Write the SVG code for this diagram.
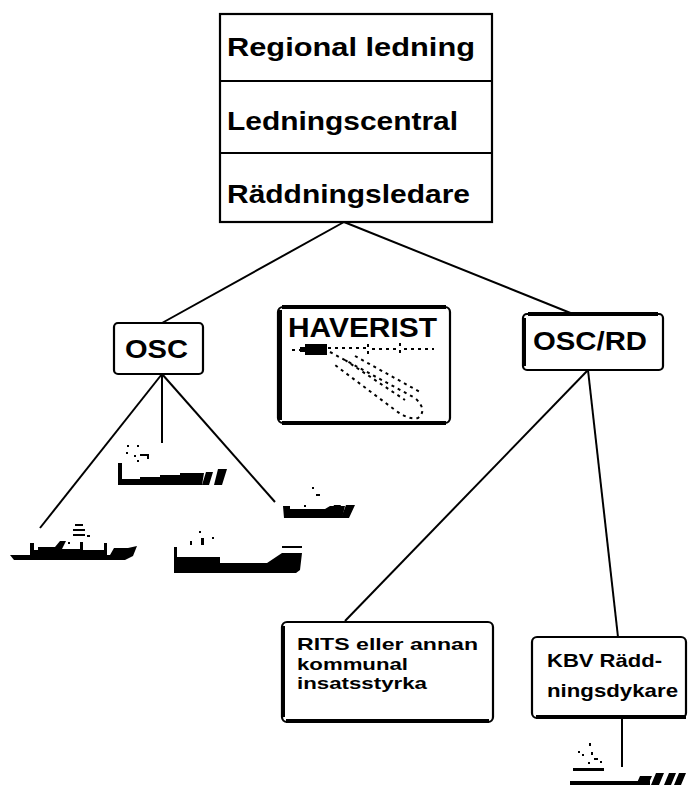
<svg xmlns="http://www.w3.org/2000/svg" width="689" height="789" viewBox="0 0 689 789">
  <style>
    .frame { fill: #fff; stroke: #000; stroke-width: 2.2; }
    .edge { fill: none; stroke: #000; stroke-width: 4; stroke-linecap: square; }
    .lbl { font-family: "Liberation Sans", Arial, sans-serif; font-weight: bold; fill: #000; }
    .conn line { stroke: #000; stroke-width: 2; }
    .hull { fill: #000; stroke: none; }
    .dash { fill: none; stroke: #000; stroke-width: 2; stroke-dasharray: 3 4; }
  </style>
  <rect width="689" height="789" fill="#fff"/>

  <!-- connectors -->
  <g id="connectors" class="conn">
    <line x1="344" y1="222" x2="162" y2="323"/>
    <line x1="344" y1="222" x2="573" y2="314"/>
    <line x1="162" y1="374" x2="40" y2="528"/>
    <line x1="162" y1="374" x2="162" y2="443"/>
    <line x1="162" y1="374" x2="275" y2="502"/>
    <line x1="588" y1="370" x2="345" y2="621"/>
    <line x1="588" y1="370" x2="618" y2="637"/>
    <line x1="622" y1="718" x2="622" y2="767"/>
  </g>

  <!-- command stack -->
  <g id="command">
    <rect class="frame" x="220" y="14" width="272" height="208" stroke-width="2.5"/>
    <line x1="220" y1="81" x2="492" y2="81" stroke="#000" stroke-width="2"/>
    <line x1="220" y1="153" x2="492" y2="153" stroke="#000" stroke-width="2"/>
    <text class="lbl" x="227" y="56" font-size="26" textLength="248" lengthAdjust="spacingAndGlyphs">Regional  ledning</text>
    <text class="lbl" x="227" y="130" font-size="26" textLength="231" lengthAdjust="spacingAndGlyphs">Ledningscentral</text>
    <text class="lbl" x="227" y="203" font-size="26" textLength="243" lengthAdjust="spacingAndGlyphs">Räddningsledare</text>
  </g>

  <!-- OSC -->
  <g id="osc">
    <rect class="frame" x="114" y="323" width="89" height="51" rx="4"/>
    <text class="lbl" x="125" y="358" font-size="26" textLength="63" lengthAdjust="spacingAndGlyphs">OSC</text>
  </g>

  <!-- HAVERIST -->
  <g id="haverist">
    <rect class="frame" x="278" y="307" width="172" height="116" rx="5"/>
    <line class="edge" x1="284" y1="307" x2="444" y2="307" stroke-width="3"/>
    <line class="edge" x1="280" y1="312" x2="280" y2="418" stroke-width="2.5"/>
    <line class="edge" x1="284" y1="423" x2="444" y2="423" stroke-width="2.5"/>
    <text class="lbl" x="288" y="337" font-size="27" textLength="149" lengthAdjust="spacingAndGlyphs">HAVERIST</text>
    <!-- aircraft wreck -->
    <rect class="hull" x="305" y="344" width="22" height="11"/>
    <rect class="hull" x="300" y="347" width="6" height="5"/>
    <path class="dash" d="M292,350 H300 M328,348 H368 M368,344 V354 M372,349 H400 M400,343 V356 M404,349 H434"/>
    <path class="dash" d="M330,352 L415,398 Q428,410 418,418 Q408,420 395,410 L335,365"/>
    <path class="dash" d="M345,360 L405,400 M355,356 L420,392"/>
  </g>

  <!-- OSC/RD -->
  <g id="osc-rd">
    <rect class="frame" x="523" y="314" width="140" height="56" rx="4"/>
    <line class="edge" x1="530" y1="314" x2="656" y2="314" stroke-width="3"/>
    <line class="edge" x1="524" y1="320" x2="524" y2="364" stroke-width="3"/>
    <text class="lbl" x="533" y="350" font-size="25" textLength="114" lengthAdjust="spacingAndGlyphs">OSC/RD</text>
  </g>

  <!-- RITS -->
  <g id="rits">
    <rect class="frame" x="282" y="622" width="211" height="100" rx="5"/>
    <line class="edge" x1="283" y1="628" x2="283" y2="715" stroke-width="3.5"/>
    <line class="edge" x1="288" y1="721" x2="487" y2="721" stroke-width="3"/>
    <text class="lbl" x="297" y="650" font-size="17" textLength="181" lengthAdjust="spacingAndGlyphs">RITS  eller annan</text>
    <text class="lbl" x="297" y="670" font-size="17" textLength="111" lengthAdjust="spacingAndGlyphs">kommunal</text>
    <text class="lbl" x="297" y="689" font-size="17" textLength="130" lengthAdjust="spacingAndGlyphs">insatsstyrka</text>
  </g>

  <!-- KBV -->
  <g id="kbv">
    <rect class="frame" x="532" y="637" width="154" height="81" rx="5"/>
    <line class="edge" x1="538" y1="717" x2="684" y2="717" stroke-width="3.5"/>
    <text class="lbl" x="547" y="667" font-size="19" textLength="115" lengthAdjust="spacingAndGlyphs">KBV Rädd-</text>
    <text class="lbl" x="547" y="697" font-size="19" textLength="131" lengthAdjust="spacingAndGlyphs">ningsdykare</text>
  </g>

  <!-- vessels -->
  <g id="vessel-a">
    <path class="hull" d="M118,463 H122 V479 H140 V477 H160 V475 H180 V473 H200 L204,473 L202,485 H118 Z"/>
    <path class="hull" d="M206,472 H213 L209,485 H202 Z M218,469 H227 L222,485 H214 Z"/>
    <g class="hull">
      <rect x="127" y="445" width="2" height="2"/><rect x="137" y="445" width="2" height="2"/>
      <rect x="126" y="452" width="2" height="2"/><rect x="134" y="455" width="2" height="2"/>
      <rect x="140" y="454" width="8" height="2"/><rect x="147" y="454" width="2" height="5"/>
      <rect x="137" y="460" width="2" height="2"/>
    </g>
  </g>

  <g id="vessel-b">
    <path class="hull" d="M10,555 H110 L114,548 H128 L137,546 L133,556 L125,560 H14 Z"/>
    <path class="hull" d="M30,543 H34 V550 H38 V547 H55 L60,541 H66 L62,549 H80 V542 H83 V550 H104 V543 H107 V555 H30 Z"/>
    <rect class="hull" x="75" y="524" width="8" height="2"/>
    <rect class="hull" x="73" y="529" width="12" height="2"/>
    <rect class="hull" x="73" y="534" width="12" height="2"/>
    <rect class="hull" x="87" y="535" width="3" height="2"/>
    <rect class="hull" x="68" y="542" width="2" height="2"/>
  </g>

  <g id="vessel-c">
    <path class="hull" d="M174,547 H177 V557 H220 V563 H267 L276,557 L282,553 H302 L300,570 L296,573 H174 Z"/>
    <rect class="hull" x="282" y="546" width="20" height="2"/>
    <rect class="hull" x="190" y="541" width="2" height="4"/>
    <rect class="hull" x="201" y="538" width="3" height="7"/>
    <rect class="hull" x="199" y="531" width="2" height="2"/>
    <rect class="hull" x="212" y="537" width="2" height="2"/>
  </g>

  <g id="vessel-d">
    <path class="hull" d="M283,506 H290 V509 H325 L330,506 H345 L342,518 H284 Z"/>
    <path class="hull" d="M334,505 H341 L335,518 H328 Z M346,505 H355 L349,518 H341 Z"/>
    <rect class="hull" x="312" y="487" width="2" height="2"/>
    <rect class="hull" x="316" y="494" width="4" height="2"/>
    <rect class="hull" x="304" y="505" width="2" height="2"/>
  </g>

  <g id="vessel-e">
    <rect class="hull" x="573" y="768" width="31" height="3"/>
    <rect class="hull" x="570" y="781" width="80" height="4"/>
    <path class="hull" d="M640,776 H652 L648,785 H636 Z M656,773 H664 L659,785 H651 Z M669,773 H676 L671,785 H664 Z M679,773 H686 L681,785 H674 Z"/>
    <rect class="hull" x="589" y="743" width="2" height="3"/>
    <rect class="hull" x="578" y="751" width="2" height="2"/>
    <rect class="hull" x="582" y="754" width="2" height="2"/>
    <rect class="hull" x="591" y="752" width="2" height="3"/>
    <rect class="hull" x="594" y="758" width="4" height="2"/>
    <rect class="hull" x="588" y="762" width="2" height="2"/>
    <rect class="hull" x="600" y="761" width="2" height="2"/>
  </g>
</svg>
